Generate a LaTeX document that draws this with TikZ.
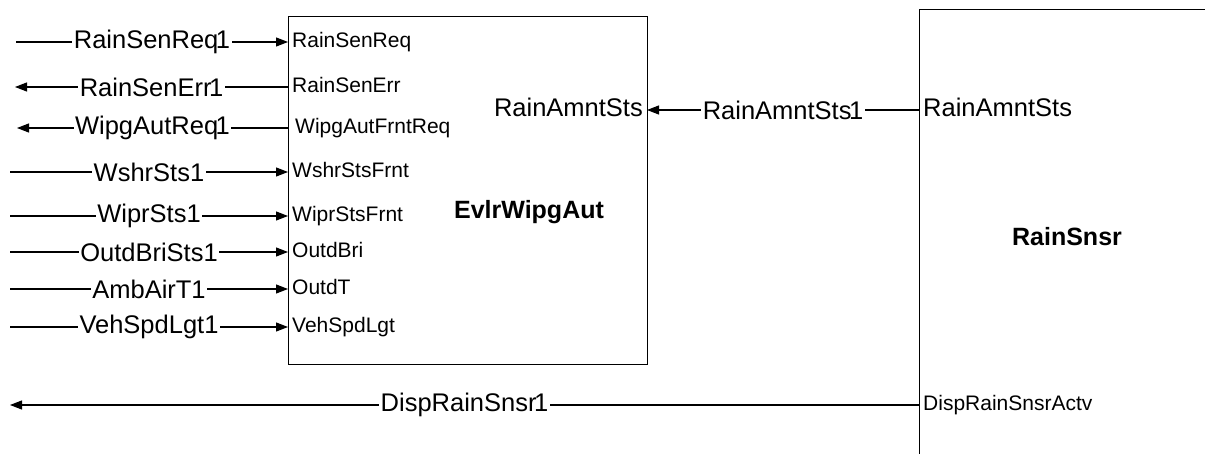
\documentclass[tikz,border=0pt]{standalone}
\usepackage{fontspec}
\setmainfont{Liberation Sans}
\usetikzlibrary{arrows.meta}
\tikzset{
  wire/.style={line width=1.1pt},
  arr/.style={wire,-{Triangle[length=12pt,width=9pt]}},
  sig/.style={font=\fontsize{25.5}{28}\selectfont, fill=white, inner xsep=1.5pt, inner ysep=0pt},
  port/.style={font=\fontsize{21}{23}\selectfont, anchor=west, inner xsep=4pt, inner ysep=0pt, text height=15pt, text depth=4.5pt},
  bigport/.style={font=\fontsize{25.5}{28}\selectfont, inner xsep=4pt, inner ysep=0pt, text height=18.5pt, text depth=5.5pt},
  title/.style={font=\bfseries\fontsize{25}{28}\selectfont},
  blockbox/.style={draw, line width=1.1pt, anchor=north west, inner sep=0pt}
}
\newcommand{\tight}{\kern-2.5pt}
\begin{document}
\begin{tikzpicture}[x=1pt,y=-1pt]
\useasboundingbox (0,0) rectangle (1205,454);
\clip (0,0) rectangle (1205,454);
\fill[white] (0,0) rectangle (1205,454);

% blocks
\node[blockbox, minimum width=359pt, minimum height=348pt] (evlr) at (288,16) {};
\node[title] (evlrT) at (529,212) {EvlrWipgAut};
\node[blockbox, minimum width=420pt, minimum height=520pt] (rain) at (919,9) {};
\node[title] (rainT) at (1067,237) {RainSnsr};

% ports of EvlrWipgAut
\node[port] (p1) at (288,42) {RainSenReq};
\node[port] (p2) at (288,87) {RainSenErr};
\node[port] (p3) at (288,128) {\kern3pt WipgAutFrntReq};
\node[port] (p4) at (288,172) {WshrStsFrnt};
\node[port] (p5) at (288,216) {WiprStsFrnt};
\node[port] (p6) at (288,252) {OutdBri};
\node[port] (p7) at (288,289) {OutdT};
\node[port] (p8) at (288,327) {VehSpdLgt};
\node[bigport, anchor=east] (eAmnt) at (647,110) {RainAmntSts};

% ports of RainSnsr
\node[bigport, anchor=west] (rAmnt) at (919,110) {RainAmntSts};
\node[port] (rDisp) at (919,405) {DispRainSnsrActv};

% free ends
\coordinate (c1) at (16,42);
\coordinate (c2) at (15,87);
\coordinate (c3) at (17,128);
\coordinate (c4) at (10,172);
\coordinate (c5) at (10,216);
\coordinate (c6) at (10,252);
\coordinate (c7) at (10,289);
\coordinate (c8) at (10,327);
\coordinate (cD) at (10,405);

% connectors
\draw[arr] (c1) -- node[sig] {RainSenReq\tight1} (p1.west);
\draw[arr] (p2.west) -- node[sig] {RainSenErr\tight1} (c2);
\draw[arr] (p3.west) -- node[sig] {WipgAutReq\tight1} (c3);
\draw[arr] (c4) -- node[sig] {WshrSts1} (p4.west);
\draw[arr] (c5) -- node[sig] {WiprSts1} (p5.west);
\draw[arr] (c6) -- node[sig] {OutdBriSts1} (p6.west);
\draw[arr] (c7) -- node[sig] {AmbAirT1} (p7.west);
\draw[arr] (c8) -- node[sig] {VehSpdLgt1} (p8.west);
\draw[arr] (rAmnt.west) -- node[sig] {RainAmntSts\tight1} (eAmnt.east);
\draw[arr] (rDisp.west) -- node[sig] {DispRainSnsr\tight1} (cD);
\end{tikzpicture}
\end{document}
